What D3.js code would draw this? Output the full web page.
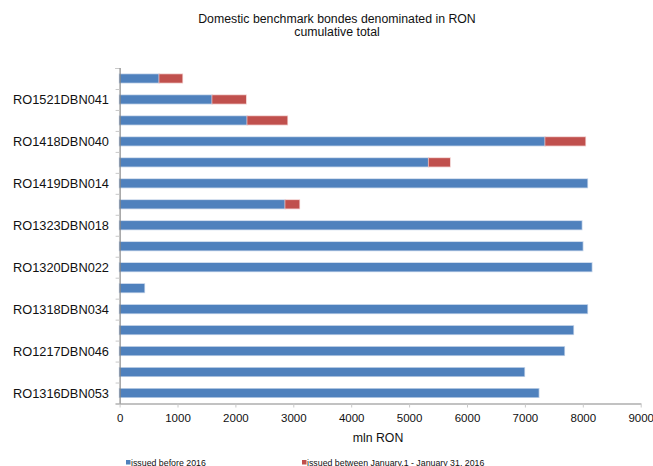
<!DOCTYPE html>
<html>
<head>
<meta charset="utf-8">
<script src="https://cdn.jsdelivr.net/npm/d3@7/dist/d3.min.js"></script>
<style>
  html, body { margin: 0; padding: 0; background: #fff; }
  svg { display: block; font-family: "Liberation Sans", Arial, sans-serif; }
</style>
</head>
<body>
<svg id="chart" width="653" height="466"></svg>
<script>
// Bond rows, top to bottom; only every other row carries a printed label.
const bondLabels = [
  "", "RO1521DBN041", "", "RO1418DBN040", "", "RO1419DBN014", "", "RO1323DBN018",
  "", "RO1320DBN022", "", "RO1318DBN034", "", "RO1217DBN046", "", "RO1316DBN053"
];
// mln RON outstanding, issued before 2016
const issuedBefore2016 = [686, 1601, 2206, 7352, 5339, 8078, 2862, 7981, 7998, 8154, 427, 8078, 7836, 7680, 6990, 7238];
// mln RON issued between January 1 and January 31, 2016
const issuedJanuary2016 = [397, 582, 690, 691, 367, 0, 242, 0, 0, 0, 0, 0, 0, 0, 0, 0];
const xTicks = [0, 1000, 2000, 3000, 4000, 5000, 6000, 7000, 8000, 9000];
const seriesNames = ["issued before 2016", "issued between January.1 - January 31, 2016"];
const titleLines = ["Domestic benchmark bondes denominated in RON", "cumulative total"];
const xAxisTitle = "mln RON";

const svg = d3.select("#chart");
const plot = { left: 119.6, right: 640.7, top: 68, bottom: 403.5 };
const colors = ["#4F81BD", "#C0504D"];
const edges = ["#c3d3e8", "#efc8c7"];

const rowIdx = d3.range(bondLabels.length);
const x = d3.scaleLinear().domain([0, 9000]).range([plot.left, plot.right]);
const y = d3.scaleBand().domain(rowIdx).range([plot.top, plot.bottom])
  .paddingInner(0.6).paddingOuter(0.3);
const rowEdges = d3.scaleLinear().domain([0, bondLabels.length]).range([plot.top, plot.bottom]);

// Title
svg.append("g").selectAll("text").data(titleLines).join("text")
  .attr("x", 337).attr("y", (d, i) => 23 + i * 13)
  .attr("text-anchor", "middle").attr("font-size", 12.3).attr("fill", "#111")
  .text(d => d);

// Stacked bars
const stackData = rowIdx.map(i => ({ i, a: issuedBefore2016[i], b: issuedJanuary2016[i] }));
const stacked = d3.stack().keys(["a", "b"])(stackData);
stacked.forEach((layer, k) => {
  svg.append("g").selectAll("rect")
    .data(layer.filter(d => d[1] > d[0]))
    .join("rect")
    .attr("x", d => x(d[0]))
    .attr("width", d => x(d[1]) - x(d[0]))
    .attr("y", d => y(d.data.i))
    .attr("height", y.bandwidth())
    .attr("fill", colors[k])
    .attr("stroke", edges[k])
    .attr("stroke-width", 1.6)
    .attr("paint-order", "stroke");
});

// Left axis: tick marks at row boundaries
const yAxis = svg.append("g").attr("transform", `translate(${plot.left},0)`)
  .call(d3.axisLeft(rowEdges).ticks(bondLabels.length).tickSize(4).tickFormat(""));
yAxis.select(".domain").attr("stroke", "#868686").attr("stroke-width", 1.2);
yAxis.selectAll(".tick line").attr("stroke", "#c8c8c8");

// Row labels
svg.append("g").selectAll("text").data(rowIdx.filter(i => bondLabels[i]))
  .join("text")
  .attr("x", 109).attr("y", i => y(i) + y.bandwidth() / 2)
  .attr("dy", "0.36em").attr("text-anchor", "end")
  .attr("font-size", 12.8).attr("fill", "#111")
  .text(i => bondLabels[i]);

// Bottom axis
const xAxis = svg.append("g").attr("transform", `translate(0,${plot.bottom})`)
  .call(d3.axisBottom(x).tickValues(xTicks).tickSize(4).tickSizeOuter(0).tickPadding(6).tickFormat(d3.format("d")));
xAxis.select(".domain").attr("stroke", "#868686").attr("stroke-width", 1.2);
xAxis.selectAll(".tick line").attr("stroke", "#c8c8c8");
xAxis.selectAll(".tick text").attr("font-size", 11.5).attr("fill", "#111")
  .attr("font-family", "'Liberation Sans', Arial, sans-serif");

svg.append("text").attr("x", 378).attr("y", 442)
  .attr("text-anchor", "middle").attr("font-size", 12.3).attr("fill", "#111")
  .text(xAxisTitle);

// Legend
const legendX = [126, 302];
const legend = svg.append("g").selectAll("g").data(seriesNames).join("g")
  .attr("transform", (d, i) => `translate(${legendX[i]},460)`);
legend.append("rect").attr("width", 4.5).attr("height", 4.5).attr("y", 0)
  .attr("fill", (d, i) => colors[i]);
legend.append("text").attr("x", 5).attr("y", 5.5)
  .attr("font-size", 8.8).attr("fill", "#111").text(d => d);
</script>
</body>
</html>
